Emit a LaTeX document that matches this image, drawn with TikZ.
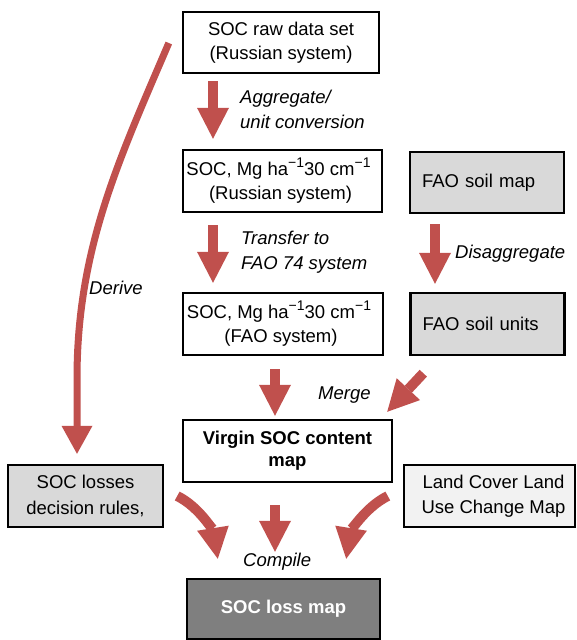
\documentclass[tikz,border=0pt]{standalone}
\usepackage{fontspec}
\setmainfont{Liberation Sans}
\usetikzlibrary{arrows.meta}
\definecolor{arrred}{HTML}{C0504D}
\definecolor{soilgray}{HTML}{D9D9D9}
\definecolor{landgray}{HTML}{F2F2F2}
\definecolor{lossgray}{HTML}{7F7F7F}
\newcommand\myexp[1]{\raisebox{7.5pt}{\fontsize{14}{14}\selectfont #1}}
\begin{document}
\begin{tikzpicture}[x=1pt,y=-1pt,
  every node/.style={font=\fontsize{18.5}{24.5}\selectfont},
  box/.style={draw=black,line width=2.4pt,inner sep=0pt,align=center,fill=white},
  bigarrow/.style={draw=arrred,line width=10pt,-{Triangle[width=32pt,length=31pt,line width=0pt]}},
  thinarrow/.style={draw=arrred,line width=7pt,-{Triangle[width=31pt,length=28pt,line width=0pt]}},
  lbl/.style={font=\fontsize{18.5}{25}\selectfont\itshape,align=left,inner sep=0pt,anchor=base west}]
\useasboundingbox (0,0) rectangle (576,640);

\node[box,minimum width=196pt,minimum height=61pt] (b1) at (281,42.5) {SOC raw data set\\(Russian system)};
\node[box,minimum width=199pt,minimum height=62pt] (b2) at (282.5,181) {SOC, Mg ha\myexp{−1}30 cm\myexp{−1}\hspace*{8pt}\\(Russian system)\hspace*{4pt}};
\node[box,fill=soilgray,text width=130pt,align=left,inner xsep=12pt,minimum height=61pt] (fao1) at (487,182.5) {FAO soil map};
\node[box,minimum width=200pt,minimum height=62pt] (b3) at (283,324) {SOC, Mg ha\myexp{−1}30 cm\myexp{−1}\hspace*{8pt}\\(FAO system)\hspace*{4pt}};
\node[box,fill=soilgray,text width=130pt,align=left,inner xsep=12pt,minimum height=62pt] (fao2) at (487.5,324) {FAO soil units};
\node[box,minimum width=209pt,minimum height=62pt,font=\fontsize{18.5}{22}\selectfont\bfseries] (virgin) at (287.5,451) {Virgin SOC content\\map};
\node[box,fill=soilgray,minimum width=155pt,minimum height=62pt,font=\fontsize{18.5}{25.5}\selectfont] (losses) at (85.5,496) {SOC losses\\decision rules,};
\node[box,fill=landgray,minimum width=171pt,minimum height=62pt,font=\fontsize{18.5}{25}\selectfont] (land) at (489.5,496) {\hspace*{8pt}Land Cover Land\\\hspace*{8pt}Use Change Map};
\node[box,fill=lossgray,text=white,minimum width=193pt,minimum height=60pt,font=\fontsize{18.5}{22}\selectfont\bfseries] (lossmap) at (283.5,609) {SOC loss map};

\node[lbl] (agg) at (240,128) {Aggregate/\\unit conversion};
\node[lbl] (trans) at (241,269) {Transfer to\\FAO 74 system};
\node[lbl] (disagg) at (455,258) {Disaggregate};
\node[lbl] (merge) at (318,399) {Merge};
\node[lbl] (derive) at (89,294) {Derive};
\node[lbl] (compile) at (243,566) {Compile};

\draw[bigarrow] ([shift={(-68,7)}]b1.south) -- ([shift={(-69.5,-10)}]b2.north);
\draw[bigarrow] ([shift={(-69.5,12)}]b2.south) -- ([shift={(-70,-9)}]b3.north);
\draw[bigarrow] ([shift={(-52,10)}]fao1.south) -- ([shift={(-52.5,-8)}]fao2.north);
\draw[bigarrow] ([shift={(-8,13)}]b3.south) -- ([shift={(-12.5,-3)}]virgin.north);
\draw[bigarrow] ([shift={(14,17)}]fao2.south west) -- ([shift={(-6,-7)}]virgin.north east);
\draw[thinarrow] ([shift={(-13,0.5)}]b1.west) .. controls +(-50,117) and +(0,-130) .. ([shift={(-8.5,-85)}]losses.north) -- ([shift={(-8.5,-10)}]losses.north);
\draw[bigarrow] ([shift={(13,0)}]losses.east) .. controls +(24,12) and +(-4,-25) .. ([shift={(32,-19)}]lossmap.north west);
\draw[bigarrow] ([shift={(-12.5,22)}]virgin.south) -- ([shift={(-8.5,-26)}]lossmap.north);
\draw[bigarrow] ([shift={(-15,0)}]land.west) .. controls +(-24,12) and +(4,-25) .. ([shift={(-35,-19)}]lossmap.north east);
\end{tikzpicture}
\end{document}
